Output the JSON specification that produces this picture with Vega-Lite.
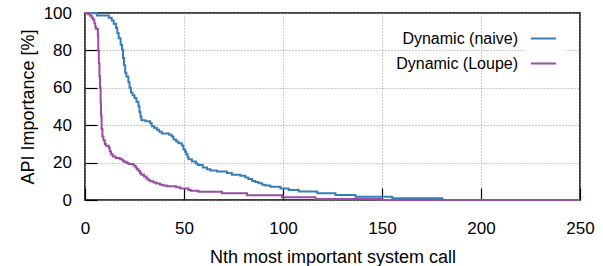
{
  "$schema": "https://vega.github.io/schema/vega-lite/v6.json",
  "width": 495,
  "height": 187,
  "autosize": {"type": "none"},
  "padding": {"left": 85, "top": 13, "right": 23, "bottom": 66},
  "background": "white",
  "config": {
    "font": "Liberation Sans",
    "view": {"stroke": "#000000", "strokeWidth": 1.5},
    "axis": {
      "domain": false,
      "grid": true,
      "gridColor": "#9a9a9a",
      "gridDash": [1, 2],
      "gridWidth": 1,
      "ticks": true,
      "tickColor": "#000000",
      "tickSize": -12,
      "tickWidth": 1.2,
      "labelFont": "Liberation Sans",
      "labelFontSize": 17,
      "labelColor": "#000000",
      "titleFont": "Liberation Sans",
      "titleFontSize": 18,
      "titleFontWeight": "normal",
      "titleColor": "#000000"
    },
    "legend": {
      "labelFont": "Liberation Sans",
      "labelFontSize": 16,
      "labelColor": "#000000"
    }
  },
  "data": {
    "values": [
      {"series": "Dynamic (naive)", "n": 0, "imp": 100},
      {"series": "Dynamic (naive)", "n": 6, "imp": 98.7},
      {"series": "Dynamic (naive)", "n": 12, "imp": 97.5},
      {"series": "Dynamic (naive)", "n": 13.5, "imp": 96},
      {"series": "Dynamic (naive)", "n": 14.5, "imp": 94.3},
      {"series": "Dynamic (naive)", "n": 15.7, "imp": 92},
      {"series": "Dynamic (naive)", "n": 16.3, "imp": 89.3},
      {"series": "Dynamic (naive)", "n": 17, "imp": 86.5},
      {"series": "Dynamic (naive)", "n": 18, "imp": 83},
      {"series": "Dynamic (naive)", "n": 18.7, "imp": 80.4},
      {"series": "Dynamic (naive)", "n": 19.2, "imp": 76},
      {"series": "Dynamic (naive)", "n": 19.7, "imp": 72},
      {"series": "Dynamic (naive)", "n": 20.3, "imp": 68},
      {"series": "Dynamic (naive)", "n": 20.9, "imp": 66},
      {"series": "Dynamic (naive)", "n": 21.9, "imp": 63},
      {"series": "Dynamic (naive)", "n": 22.5, "imp": 60},
      {"series": "Dynamic (naive)", "n": 23.2, "imp": 57.5},
      {"series": "Dynamic (naive)", "n": 24, "imp": 56},
      {"series": "Dynamic (naive)", "n": 25, "imp": 54.5},
      {"series": "Dynamic (naive)", "n": 26, "imp": 52.5},
      {"series": "Dynamic (naive)", "n": 27, "imp": 50.1},
      {"series": "Dynamic (naive)", "n": 27.5, "imp": 47},
      {"series": "Dynamic (naive)", "n": 28, "imp": 44.5},
      {"series": "Dynamic (naive)", "n": 28.5, "imp": 42.6},
      {"series": "Dynamic (naive)", "n": 30.5, "imp": 42.1},
      {"series": "Dynamic (naive)", "n": 32.9, "imp": 41},
      {"series": "Dynamic (naive)", "n": 33.7, "imp": 39.4},
      {"series": "Dynamic (naive)", "n": 35, "imp": 38.5},
      {"series": "Dynamic (naive)", "n": 36.3, "imp": 37.6},
      {"series": "Dynamic (naive)", "n": 37.5, "imp": 36.5},
      {"series": "Dynamic (naive)", "n": 38.8, "imp": 35.5},
      {"series": "Dynamic (naive)", "n": 42.5, "imp": 34.9},
      {"series": "Dynamic (naive)", "n": 43.8, "imp": 34},
      {"series": "Dynamic (naive)", "n": 44.7, "imp": 32.4},
      {"series": "Dynamic (naive)", "n": 46, "imp": 31.3},
      {"series": "Dynamic (naive)", "n": 47.2, "imp": 30.3},
      {"series": "Dynamic (naive)", "n": 48.9, "imp": 29.2},
      {"series": "Dynamic (naive)", "n": 49.7, "imp": 27},
      {"series": "Dynamic (naive)", "n": 50.5, "imp": 25.8},
      {"series": "Dynamic (naive)", "n": 51.1, "imp": 24.5},
      {"series": "Dynamic (naive)", "n": 51.8, "imp": 23},
      {"series": "Dynamic (naive)", "n": 52.3, "imp": 21.8},
      {"series": "Dynamic (naive)", "n": 54, "imp": 20.6},
      {"series": "Dynamic (naive)", "n": 56, "imp": 19.5},
      {"series": "Dynamic (naive)", "n": 57, "imp": 18.7},
      {"series": "Dynamic (naive)", "n": 59.5, "imp": 17.4},
      {"series": "Dynamic (naive)", "n": 61.6, "imp": 16.5},
      {"series": "Dynamic (naive)", "n": 63.3, "imp": 15.8},
      {"series": "Dynamic (naive)", "n": 66.6, "imp": 15.2},
      {"series": "Dynamic (naive)", "n": 71.7, "imp": 14.5},
      {"series": "Dynamic (naive)", "n": 74.2, "imp": 13.5},
      {"series": "Dynamic (naive)", "n": 78.4, "imp": 13},
      {"series": "Dynamic (naive)", "n": 81, "imp": 12},
      {"series": "Dynamic (naive)", "n": 82.5, "imp": 11.2},
      {"series": "Dynamic (naive)", "n": 84.4, "imp": 10.2},
      {"series": "Dynamic (naive)", "n": 86, "imp": 9.6},
      {"series": "Dynamic (naive)", "n": 87.7, "imp": 8.9},
      {"series": "Dynamic (naive)", "n": 89.5, "imp": 8.2},
      {"series": "Dynamic (naive)", "n": 91.1, "imp": 7.8},
      {"series": "Dynamic (naive)", "n": 93.6, "imp": 7.1},
      {"series": "Dynamic (naive)", "n": 98.7, "imp": 6.2},
      {"series": "Dynamic (naive)", "n": 102.9, "imp": 5.3},
      {"series": "Dynamic (naive)", "n": 108, "imp": 4.5},
      {"series": "Dynamic (naive)", "n": 117.3, "imp": 3.6},
      {"series": "Dynamic (naive)", "n": 126.5, "imp": 2.7},
      {"series": "Dynamic (naive)", "n": 136.6, "imp": 1.8},
      {"series": "Dynamic (naive)", "n": 155.2, "imp": 0.9},
      {"series": "Dynamic (naive)", "n": 180.5, "imp": 0},
      {"series": "Dynamic (naive)", "n": 250, "imp": 0},
      {"series": "Dynamic (Loupe)", "n": 0, "imp": 100},
      {"series": "Dynamic (Loupe)", "n": 1.5, "imp": 99.3},
      {"series": "Dynamic (Loupe)", "n": 2.5, "imp": 98.5},
      {"series": "Dynamic (Loupe)", "n": 3.4, "imp": 97.5},
      {"series": "Dynamic (Loupe)", "n": 4, "imp": 96.5},
      {"series": "Dynamic (Loupe)", "n": 4.7, "imp": 94.5},
      {"series": "Dynamic (Loupe)", "n": 5.2, "imp": 92.5},
      {"series": "Dynamic (Loupe)", "n": 5.6, "imp": 91.4},
      {"series": "Dynamic (Loupe)", "n": 6.5, "imp": 88},
      {"series": "Dynamic (Loupe)", "n": 6.7, "imp": 80},
      {"series": "Dynamic (Loupe)", "n": 7, "imp": 73},
      {"series": "Dynamic (Loupe)", "n": 7.3, "imp": 66},
      {"series": "Dynamic (Loupe)", "n": 7.6, "imp": 60},
      {"series": "Dynamic (Loupe)", "n": 7.9, "imp": 52},
      {"series": "Dynamic (Loupe)", "n": 8.1, "imp": 45},
      {"series": "Dynamic (Loupe)", "n": 8.4, "imp": 38},
      {"series": "Dynamic (Loupe)", "n": 8.8, "imp": 34},
      {"series": "Dynamic (Loupe)", "n": 9.3, "imp": 32},
      {"series": "Dynamic (Loupe)", "n": 10, "imp": 30},
      {"series": "Dynamic (Loupe)", "n": 10.6, "imp": 29},
      {"series": "Dynamic (Loupe)", "n": 12, "imp": 28},
      {"series": "Dynamic (Loupe)", "n": 12.5, "imp": 26},
      {"series": "Dynamic (Loupe)", "n": 13.2, "imp": 24.5},
      {"series": "Dynamic (Loupe)", "n": 14, "imp": 23.2},
      {"series": "Dynamic (Loupe)", "n": 15.5, "imp": 22.5},
      {"series": "Dynamic (Loupe)", "n": 17.7, "imp": 21.8},
      {"series": "Dynamic (Loupe)", "n": 19, "imp": 21},
      {"series": "Dynamic (Loupe)", "n": 19.7, "imp": 20.5},
      {"series": "Dynamic (Loupe)", "n": 21, "imp": 19.8},
      {"series": "Dynamic (Loupe)", "n": 22, "imp": 19.2},
      {"series": "Dynamic (Loupe)", "n": 24.5, "imp": 18.5},
      {"series": "Dynamic (Loupe)", "n": 25.5, "imp": 17.5},
      {"series": "Dynamic (Loupe)", "n": 26.1, "imp": 16.5},
      {"series": "Dynamic (Loupe)", "n": 27, "imp": 15.5},
      {"series": "Dynamic (Loupe)", "n": 27.8, "imp": 14.3},
      {"series": "Dynamic (Loupe)", "n": 28.5, "imp": 13.5},
      {"series": "Dynamic (Loupe)", "n": 29.8, "imp": 12.6},
      {"series": "Dynamic (Loupe)", "n": 31, "imp": 11.5},
      {"series": "Dynamic (Loupe)", "n": 32, "imp": 10.5},
      {"series": "Dynamic (Loupe)", "n": 33, "imp": 10},
      {"series": "Dynamic (Loupe)", "n": 34.6, "imp": 9.4},
      {"series": "Dynamic (Loupe)", "n": 36, "imp": 8.8},
      {"series": "Dynamic (Loupe)", "n": 37.9, "imp": 8.2},
      {"series": "Dynamic (Loupe)", "n": 39.5, "imp": 7.7},
      {"series": "Dynamic (Loupe)", "n": 41.3, "imp": 7.3},
      {"series": "Dynamic (Loupe)", "n": 46, "imp": 6.8},
      {"series": "Dynamic (Loupe)", "n": 48.1, "imp": 6.2},
      {"series": "Dynamic (Loupe)", "n": 52.3, "imp": 5.3},
      {"series": "Dynamic (Loupe)", "n": 53.5, "imp": 5},
      {"series": "Dynamic (Loupe)", "n": 57.3, "imp": 4.4},
      {"series": "Dynamic (Loupe)", "n": 69.2, "imp": 3.6},
      {"series": "Dynamic (Loupe)", "n": 81.8, "imp": 2.5},
      {"series": "Dynamic (Loupe)", "n": 99.5, "imp": 1.5},
      {"series": "Dynamic (Loupe)", "n": 116.4, "imp": 0.6},
      {"series": "Dynamic (Loupe)", "n": 149.3, "imp": 0},
      {"series": "Dynamic (Loupe)", "n": 250, "imp": 0}
    ]
  },
  "mark": {"type": "line", "interpolate": "step-after", "strokeWidth": 2},
  "encoding": {
    "x": {
      "field": "n",
      "type": "quantitative",
      "scale": {"domain": [0, 250], "nice": false},
      "axis": {
        "title": "Nth most important system call",
        "values": [0, 50, 100, 150, 200, 250],
        "labelPadding": 32.5,
        "labelFlush": false,
        "titleY": 62,
        "titleBaseline": "alphabetic"
      }
    },
    "y": {
      "field": "imp",
      "type": "quantitative",
      "scale": {"domain": [0, 100], "nice": false},
      "axis": {
        "title": "API Importance [%]",
        "values": [0, 20, 40, 60, 80, 100],
        "labelPadding": 25.5,
        "labelFlush": false,
        "titleX": -52,
        "titleBaseline": "alphabetic"
      }
    },
    "color": {
      "field": "series",
      "type": "nominal",
      "scale": {"domain": ["Dynamic (naive)", "Dynamic (Loupe)"], "range": ["#377eb8", "#984ea3"]},
      "legend": {
        "title": null,
        "orient": "none",
        "legendX": 440,
        "legendY": 7,
        "padding": 5,
        "fillColor": "white",
        "symbolType": "stroke",
        "symbolSize": 625,
        "symbolStrokeWidth": 2,
        "labelAlign": "right",
        "labelOffset": -39,
        "rowPadding": 3
      }
    }
  }
}
